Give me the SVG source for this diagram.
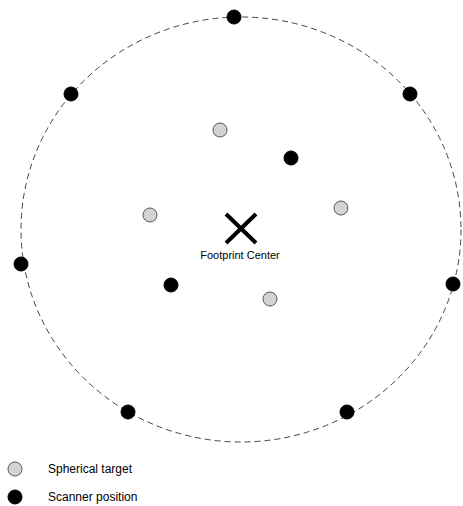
<svg xmlns="http://www.w3.org/2000/svg" width="463" height="506" viewBox="0 0 463 506">
<style>
.scan{fill:#000;stroke:#000;stroke-width:1}
.tgt{fill:#d3d3d3;stroke:#555;stroke-width:1}
.lbl{font-family:"Liberation Sans",Arial,sans-serif;fill:#000}
</style>
<rect width="463" height="506" fill="#fff"/>
<g id="footprint">
<ellipse cx="241" cy="229.5" rx="220" ry="212.5" fill="none" stroke="#444" stroke-width="1" stroke-dasharray="6 4"/>
</g>
<g id="scanners">
<circle class="scan" cx="234" cy="17" r="7"/>
<circle class="scan" cx="71" cy="94" r="7"/>
<circle class="scan" cx="410" cy="94" r="7"/>
<circle class="scan" cx="291" cy="158" r="7"/>
<circle class="scan" cx="21" cy="264" r="7"/>
<circle class="scan" cx="453" cy="284" r="7"/>
<circle class="scan" cx="171" cy="285" r="7"/>
<circle class="scan" cx="128" cy="412" r="7"/>
<circle class="scan" cx="347" cy="412" r="7"/>
</g>
<g id="targets">
<circle class="tgt" cx="220" cy="130" r="7"/>
<circle class="tgt" cx="150" cy="215" r="7"/>
<circle class="tgt" cx="341" cy="208" r="7"/>
<circle class="tgt" cx="270" cy="299" r="7"/>
</g>
<g id="center">
<path d="M226 214 L256 243 M256 214 L226 243" stroke="#000" stroke-width="4" fill="none"/>
<text class="lbl" x="240" y="259" font-size="11" text-anchor="middle">Footprint Center</text>
</g>
<g id="legend">
<circle class="tgt" cx="15" cy="469" r="7"/>
<text class="lbl" x="48" y="473" font-size="12">Spherical target</text>
<circle class="scan" cx="15" cy="497" r="7"/>
<text class="lbl" x="48" y="501" font-size="12">Scanner position</text>
</g>
</svg>
